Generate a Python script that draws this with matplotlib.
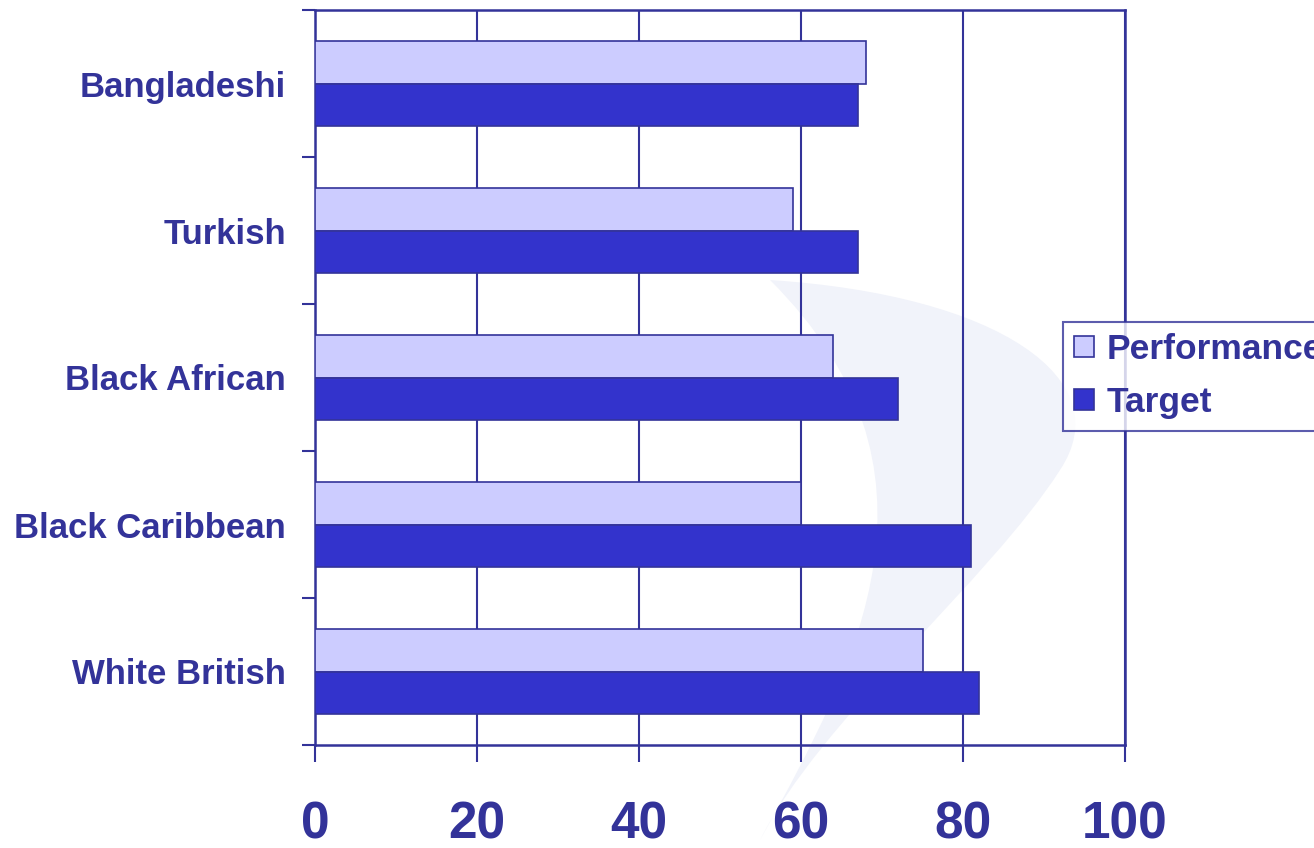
import matplotlib
matplotlib.use("Agg")
import matplotlib.pyplot as plt
from matplotlib.patches import PathPatch
from matplotlib.path import Path
import numpy as np

categories = ["Bangladeshi", "Turkish", "Black African", "Black Caribbean", "White British"]
performance = [68, 59, 64, 60, 75]
target = [67, 67, 72, 81, 82]
series_names = ["Performance", "Target"]
xticks = [0, 20, 40, 60, 80, 100]

TXT = "#333399"
EDGE = "#333399"
C_PERF = "#CCCCFF"
C_TGT = "#3333CC"

plt.rcParams['font.family'] = ['Liberation Sans', 'DejaVu Sans']

W, H = 1314, 848
fig = plt.figure(figsize=(W/100, H/100), dpi=100)

# faint decorative swoosh in the background (figure pixel coordinates)
sw = [(770, 280), (1000, 295), (1120, 380), (1060, 470),
      (990, 580), (820, 720), (760, 840),
      (860, 660), (960, 470), (770, 280)]
codes = [Path.MOVETO, Path.CURVE4, Path.CURVE4, Path.CURVE4,
         Path.CURVE4, Path.CURVE4, Path.CURVE4,
         Path.CURVE4, Path.CURVE4, Path.CURVE4]
sw_path = Path([(x / W, 1 - yy / H) for x, yy in sw], codes)
fig.patches.append(PathPatch(sw_path, transform=fig.transFigure,
                             facecolor="#F1F3FA", edgecolor="none", zorder=-5))

ax = fig.add_axes([315/W, 1-745/H, (1125-315)/W, (745-10)/H])
ax.set_facecolor('none')
ax.set_zorder(2)

n = len(categories)
y = np.arange(n)[::-1]  # Bangladeshi at top
h = 0.29
ax.barh(y + h/2, performance, height=h, color=C_PERF, edgecolor=EDGE, linewidth=1.2,
        label=series_names[0], zorder=3)
ax.barh(y - h/2, target, height=h, color=C_TGT, edgecolor=EDGE, linewidth=1.2,
        label=series_names[1], zorder=3)

ax.set_xlim(0, 100)
ax.set_ylim(-0.5, n - 0.5)
ax.set_xticks(xticks)
ax.set_xticklabels([str(v) for v in xticks], fontsize=37, fontweight='bold', color=TXT)
ax.tick_params(axis='x', length=12, width=1.5, color=EDGE, direction='out', pad=28)

ax.set_yticks(y)
ax.set_yticklabels(categories, fontsize=25, fontweight='bold', color=TXT)
ax.set_yticks(np.arange(-0.5, n, 1.0), minor=True)
ax.tick_params(axis='y', which='major', length=0, pad=21)
ax.tick_params(axis='y', which='minor', length=9.5, width=1.5, color=EDGE, direction='out')

ax.grid(axis='x', color=EDGE, linewidth=1.5, zorder=1)
ax.set_axisbelow(True)
for s in ax.spines.values():
    s.set_color(EDGE)
    s.set_linewidth(1.8)

leg = fig.legend(loc='upper left', bbox_to_anchor=(1063/W, 1-322/H),
                 fontsize=25.5, frameon=True, fancybox=False, borderpad=0.32,
                 handlelength=0.55, handleheight=0.55, handletextpad=0.35,
                 labelspacing=0.56, borderaxespad=0)
leg.set_zorder(5)
leg.get_frame().set_edgecolor(EDGE)
leg.get_frame().set_linewidth(1.5)
for t in leg.get_texts():
    t.set_color(TXT)
    t.set_fontweight('bold')

fig.savefig("out.png", dpi=100)
